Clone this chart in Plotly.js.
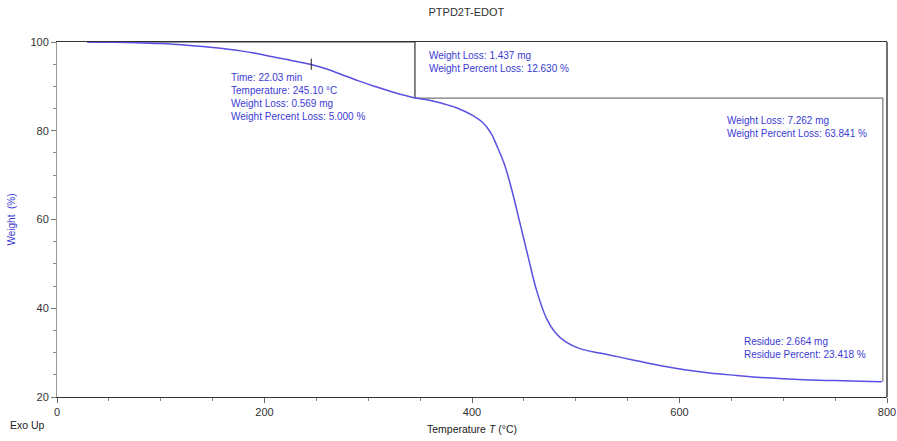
<!DOCTYPE html>
<html>
<head>
<meta charset="utf-8">
<script src="https://cdn.plot.ly/plotly-3.0.1.min.js"></script>
<style>html,body{margin:0;padding:0;background:#fff;}#chart{width:897px;height:441px;}</style>
</head>
<body>
<div id="chart"></div>
<script>
// TGA curve: temperature (°C) and weight (%)
const temperature = [29, 50, 77, 100, 128, 150, 177, 195, 209, 225, 244, 260, 273, 290, 305, 325, 344, 358, 369, 385, 401, 410, 418, 424, 431, 438, 446, 454, 462, 472, 480, 490, 504, 523, 540, 560, 581, 605, 629, 655, 678, 700, 726, 750, 774, 795];
const weight =      [100, 99.95, 99.85, 99.65, 99.2, 98.75, 98.0, 97.3, 96.6, 95.9, 95.0, 93.9, 92.8, 91.3, 90.1, 88.6, 87.45, 86.95, 86.3, 85.2, 83.4, 81.9, 79.6, 76.6, 72.6, 67.0, 59.4, 51.7, 44.2, 37.6, 34.6, 32.5, 30.9, 29.9, 29.1, 28.1, 27.1, 26.15, 25.4, 24.85, 24.4, 24.1, 23.85, 23.7, 23.55, 23.42];

// 5 % weight-loss marker
const markerT = [245.1];
const markerW = [95.0];

// step-analysis brackets
const step1T = [29, 345, 345];
const step1W = [100, 100, 87.37];
const step2T = [345, 796, 796];
const step2W = [87.37, 87.37, 23.42];

// annotation texts and anchors
const noteTexts = [
  "Time: 22.03 min<br>Temperature: 245.10 °C<br>Weight Loss: 0.569 mg<br>Weight Percent Loss: 5.000 %",
  "Weight Loss: 1.437 mg<br>Weight Percent Loss: 12.630 %",
  "Weight Loss: 7.262 mg<br>Weight Percent Loss: 63.841 %",
  "Residue: 2.664 mg<br>Residue Percent: 23.418 %"
];
const noteT = [165.5, 356.5, 643.5, 660];
const noteW = [93.6, 98.7, 84.0, 34.3];

const xTickVals = [0, 200, 400, 600, 800];
const yTickVals = [20, 40, 60, 80, 100];

const blueText = '#3b3bd4';
const curveColor = '#5a4fe0';

const traces = [
  {x: step1T, y: step1W, mode: 'lines', line: {color: '#333', width: 1.2}, hoverinfo: 'skip', showlegend: false},
  {x: step2T, y: step2W, mode: 'lines', line: {color: '#777', width: 1.2}, hoverinfo: 'skip', showlegend: false},
  {x: temperature, y: weight, mode: 'lines', line: {color: curveColor, width: 1.5, shape: 'spline', smoothing: 1}, showlegend: false},
  {x: markerT, y: markerW, mode: 'markers', marker: {symbol: 'line-ns', size: 8, line: {color: '#222', width: 1}}, showlegend: false}
];

const annotations = noteTexts.map((t, i) => ({
  x: noteT[i], y: noteW[i], xref: 'x', yref: 'y', text: t, showarrow: false,
  xanchor: 'left', yanchor: 'top', align: 'left',
  font: {family: 'Liberation Sans, Arial, sans-serif', size: 10, color: blueText}
}));
annotations.push({
  x: (8 - 57) / 830, y: (397.3 - 425) / 355, xref: 'paper', yref: 'paper', text: 'Exo Up', showarrow: false,
  xanchor: 'left', yanchor: 'middle',
  font: {family: 'Liberation Sans, Arial, sans-serif', size: 10.5, color: '#222'}
});

const layout = {
  width: 897, height: 441,
  margin: {l: 57, r: 10, t: 42, b: 44},
  paper_bgcolor: '#fff', plot_bgcolor: '#fff',
  font: {family: 'Liberation Sans, Arial, sans-serif', size: 11, color: '#333'},
  title: {text: 'PTPD2T-EDOT', x: 0.52, xref: 'container', xanchor: 'center', y: 0.972, yref: 'container', yanchor: 'middle',
          font: {size: 11, color: '#333'}},
  xaxis: {
    range: [0, 800], tickvals: xTickVals, ticks: 'outside', ticklen: 5, tickcolor: '#666',
    showline: true, linecolor: '#333', linewidth: 1, mirror: true, showgrid: false, zeroline: false,
    minor: {dtick: 50, tick0: 0, ticks: 'outside', ticklen: 3, tickcolor: '#888', showgrid: false},
    tickfont: {size: 11, color: '#333'},
    title: {text: 'Temperature <i>T</i> (°C)', standoff: 8, font: {size: 10.5, color: '#222'}}
  },
  yaxis: {
    range: [20, 100], tickvals: yTickVals, ticks: 'outside', ticklen: 5, tickcolor: '#777',
    showline: true, linecolor: '#999', linewidth: 1, mirror: false, showgrid: false, zeroline: false,
    minor: {dtick: 5, tick0: 0, ticks: 'outside', ticklen: 3, tickcolor: '#888', showgrid: false},
    tickfont: {size: 11, color: '#333'},
    title: {text: 'Weight  (%)', standoff: 12, font: {size: 10, color: blueText}}
  },
  shapes: [
    {type: 'line', xref: 'paper', yref: 'paper', x0: 1, x1: 1, y0: 0, y1: 1, line: {color: '#111', width: 1.2}}
  ],
  annotations: annotations
};

Plotly.newPlot('chart', traces, layout, {displayModeBar: false, staticPlot: true});
</script>
</body>
</html>
